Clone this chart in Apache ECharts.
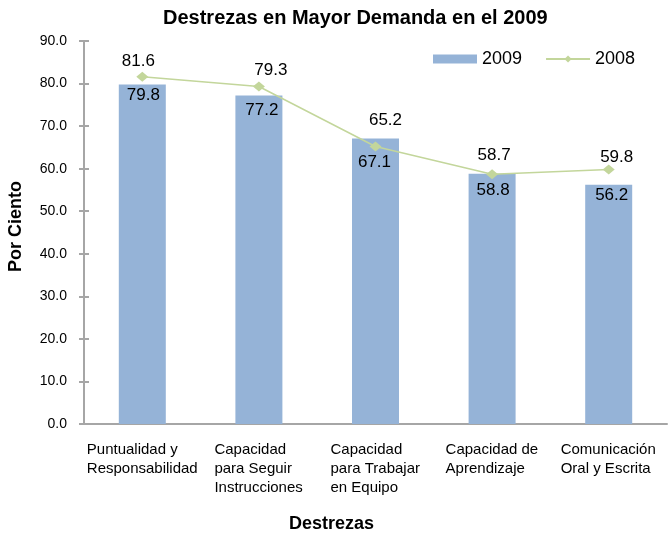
<!DOCTYPE html>
<html>
<head>
<meta charset="utf-8">
<script src="https://cdn.jsdelivr.net/npm/echarts@6/dist/echarts.min.js"></script>
<style>
  html, body { margin: 0; padding: 0; background: #fff; }
  #chart { width: 669px; height: 533px; }
</style>
</head>
<body>
<div id="chart"></div>
<script>
const categories = [
  'Puntualidad y\nResponsabilidad',
  'Capacidad\npara Seguir\nInstrucciones',
  'Capacidad\npara Trabajar\nen Equipo',
  'Capacidad de\nAprendizaje',
  'Comunicación\nOral y Escrita'
]
const values2009 = [79.8, 77.2, 67.1, 58.8, 56.2]
const values2008 = [81.6, 79.3, 65.2, 58.7, 59.8]
const yTicks = { min: 0, max: 90, interval: 10 }

// labels in the original were nudged by hand, keep their offsets
const barLabelOffsets = [[1, 11], [3, 15], [-1, 24], [1, 17], [3, 10]]
const lineLabelOffsets = [[-4, -15], [12, -16], [10, -26], [2, -19], [8, -12]]

const FONT = '"Liberation Sans", Arial, sans-serif'
const labelFontSize = 15
const numFontSize = 17

// measure label block width so lines are left-aligned inside a centred block
const measureCtx = document.createElement('canvas').getContext('2d')
measureCtx.font = labelFontSize + 'px ' + FONT
function blockWidth(text) {
  return Math.ceil(Math.max(...text.split('\n').map(l => measureCtx.measureText(l).width)))
}
const richStyles = {}
categories.forEach((c, i) => {
  richStyles['c' + i] = { width: blockWidth(c), align: 'left', fontSize: labelFontSize, fontFamily: FONT, color: '#000', lineHeight: 19 }
})

const chart = echarts.init(document.getElementById('chart'))

const axisGray = '#a6a6a6'
const numLabel = {
  show: true,
  align: 'center',
  verticalAlign: 'middle',
  color: '#000',
  fontSize: numFontSize,
  fontFamily: FONT,
  formatter: p => p.value.toFixed(1)
}

chart.setOption({
  backgroundColor: '#fff',
  animation: false,
  textStyle: { fontFamily: FONT },
  title: {
    text: 'Destrezas en Mayor Demanda en el 2009',
    left: 163,
    top: 8,
    padding: 0,
    textStyle: { fontSize: 20, fontWeight: 'bold', color: '#000', fontFamily: FONT }
  },
  legend: {
    left: 433,
    top: 50,
    padding: 0,
    itemGap: 23,
    itemWidth: 44,
    itemHeight: 9,
    textStyle: { fontSize: 18, color: '#000', fontFamily: FONT },
    data: [
      { name: '2009', icon: 'rect' },
      { name: '2008' }
    ]
  },
  grid: { left: 84, right: 2, top: 41, bottom: 109, outerBoundsMode: 'none' },
  xAxis: {
    type: 'category',
    data: categories,
    name: 'Destrezas',
    nameLocation: 'middle',
    nameGap: 91,
    nameTextStyle: { fontSize: 18, fontWeight: 'bold', color: '#000', fontFamily: FONT, padding: [0, 88, 0, 0] },
    axisLine: { lineStyle: { color: axisGray, width: 2 } },
    axisTick: { show: false },
    axisLabel: {
      interval: 0,
      margin: 16,
      verticalAlign: 'top',
      formatter: (v) => {
        const i = categories.indexOf(v)
        return v.split('\n').map(l => '{c' + i + '|' + l + '}').join('\n')
      },
      rich: richStyles
    }
  },
  yAxis: [
    {
      type: 'value',
      min: yTicks.min,
      max: yTicks.max,
      interval: yTicks.interval,
      name: 'Por Ciento',
      nameLocation: 'middle',
      nameGap: 59,
      nameRotate: 90,
      nameTextStyle: { fontSize: 18, fontWeight: 'bold', color: '#000', fontFamily: FONT, padding: [0, 0, 0, 12] },
      axisLine: { show: true, lineStyle: { color: axisGray, width: 2 } },
      axisTick: { show: true, length: 5, lineStyle: { color: axisGray, width: 2 } },
      axisLabel: { formatter: v => v.toFixed(1), fontSize: 14, color: '#000', margin: 17, fontFamily: FONT },
      splitLine: { show: false }
    },
    {
      type: 'value',
      position: 'left',
      min: yTicks.min,
      max: yTicks.max,
      interval: yTicks.interval,
      axisLine: { show: false },
      axisTick: { show: true, inside: true, length: 5, lineStyle: { color: axisGray, width: 2 } },
      axisLabel: { show: false },
      splitLine: { show: false }
    }
  ],
  series: [
    {
      name: '2009',
      type: 'bar',
      data: values2009.map((v, i) => ({
        value: v,
        label: { offset: barLabelOffsets[i] }
      })),
      barWidth: 47,
      itemStyle: { color: '#95b3d7' },
      label: Object.assign({ position: ['50%', 0] }, numLabel)
    },
    {
      name: '2008',
      type: 'line',
      data: values2008.map((v, i) => ({
        value: v,
        label: { offset: lineLabelOffsets[i] }
      })),
      symbol: 'diamond',
      symbolSize: [12, 10],
      lineStyle: { color: '#c3d69b', width: 1.5 },
      itemStyle: { color: '#c3d69b' },
      label: Object.assign({ position: ['50%', '50%'] }, numLabel),
      z: 5
    }
  ]
})
</script>
</body>
</html>
